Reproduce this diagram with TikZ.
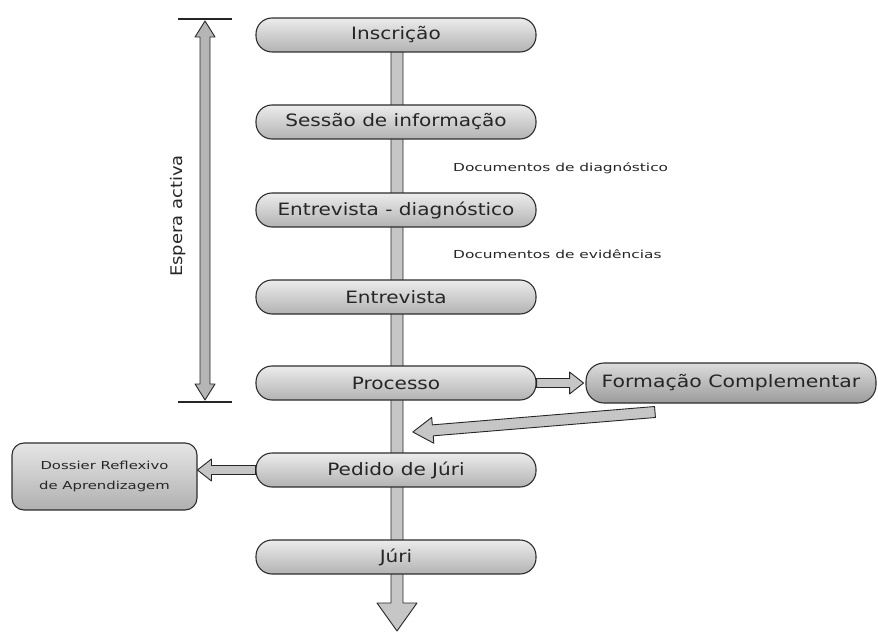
\documentclass[tikz,border=0pt]{standalone}
\usepackage{fontspec}
\setmainfont{DejaVu Sans}
\usetikzlibrary{calc}
\newcommand{\wide}[2]{\scalebox{#1}[1]{#2}}
\begin{document}
\begin{tikzpicture}[x=1pt,y=1pt,
  pill/.style={rounded corners=16pt, minimum width=280pt, minimum height=34pt,
    top color=gray!15, bottom color=gray!60, draw=gray!35!black, line width=1.1pt,
    font=\fontsize{17}{19}\selectfont, text=black!85, inner sep=0pt},
  darkpill/.style={pill, minimum width=290pt, minimum height=40pt, rounded corners=18pt,
    top color=gray!28, bottom color=gray!78},
  dossier/.style={rounded corners=12pt, minimum width=185pt, minimum height=67pt,
    top color=gray!20, bottom color=gray!62, draw=gray!35!black, line width=1.1pt,
    font=\fontsize{11}{20}\selectfont, align=center, text=black!85},
  note/.style={font=\fontsize{11}{13}\selectfont, anchor=west, text=black!85, inner sep=0pt},
  blk/.style={fill=gray!45, draw=gray!30!black, line width=0.9pt, line join=round},
  bar/.style={draw=black!85, line width=1.3pt}
]
\useasboundingbox (0,0) rectangle (878,633);
% block arrow: [opts] start, angle, length, shaft half width, head half width, head length
\newcommand{\blockarr}[7][]{%
  \begin{scope}[shift={#2}, rotate=#3]
    \path[blk,#1] (0,-#5) -- ({#4-#7},-#5) -- ({#4-#7},-#6) -- (#4,0) -- ({#4-#7},#6)
      -- ({#4-#7},#5) -- (0,#5) -- cycle;
  \end{scope}}
% spine
\coordinate (sTop) at (397,598);
\coordinate (sTip) at (397,2);
\path[blk] ($(sTop)+(-6,0)$) -- ($(sTip)+(-6,28)$) -- ($(sTip)+(-20,28)$) -- (sTip)
  -- ($(sTip)+(20,28)$) -- ($(sTip)+(6,28)$) -- ($(sTop)+(6,0)$) -- cycle;

\node[pill] (ins) at (396,598) {\wide{1.18}{Inscrição}};
\node[pill] (ses) at (396,511) {\wide{1.18}{Sessão de informação}};
\node[pill] (ediag) at (396,423) {\wide{1.18}{Entrevista - diagnóstico}};
\node[pill] (ent) at (396,336) {\wide{1.18}{Entrevista}};
\node[pill] (proc) at (396,250) {\wide{1.18}{Processo}};
\node[pill] (ped) at (396,163) {\wide{1.18}{Pedido de Júri}};
\node[pill] (juri) at (396,76) {\wide{1.18}{Júri}};
\node[darkpill] (form) at (731,250) {\wide{1.2}{Formação Complementar}};
\node[dossier] (dos) at (104.5,156.5) {\wide{1.35}{Dossier Reflexivo}\\\wide{1.35}{de Aprendizagem}};

\node[note] (d1) at (453,465) {\wide{1.4}{Documentos de diagnóstico}};
\node[note] (d2) at (453,379) {\wide{1.4}{Documentos de evidências}};

% side arrows
\blockarr{(proc.east)}{0}{47}{4.5}{11}{14}
\blockarr{(ped.west)}{180}{58}{4.5}{11}{14}
\coordinate (fTail) at (655,221);
\blockarr{(fTail)}{184.72}{243}{5.5}{13}{20}

% Espera activa
\coordinate (eTop) at (205,612);
\coordinate (eBot) at (205,233);
\path[blk, fill=gray!58] (eTop) -- ($(eTop)+(-10,-16)$) -- ($(eTop)+(-5,-16)$)
  -- ($(eBot)+(-5,16)$) -- ($(eBot)+(-10,16)$) -- (eBot) -- ($(eBot)+(10,16)$)
  -- ($(eBot)+(5,16)$) -- ($(eTop)+(5,-16)$) -- ($(eTop)+(10,-16)$) -- cycle;
\draw[bar] (178,614) -- (232,614);
\draw[bar] (178,231) -- (232,231);
\node[rotate=90, font=\fontsize{16}{18}\selectfont, text=black!85] (esp) at (178,417) {\wide{1.12}{Espera activa}};
\end{tikzpicture}
\end{document}
